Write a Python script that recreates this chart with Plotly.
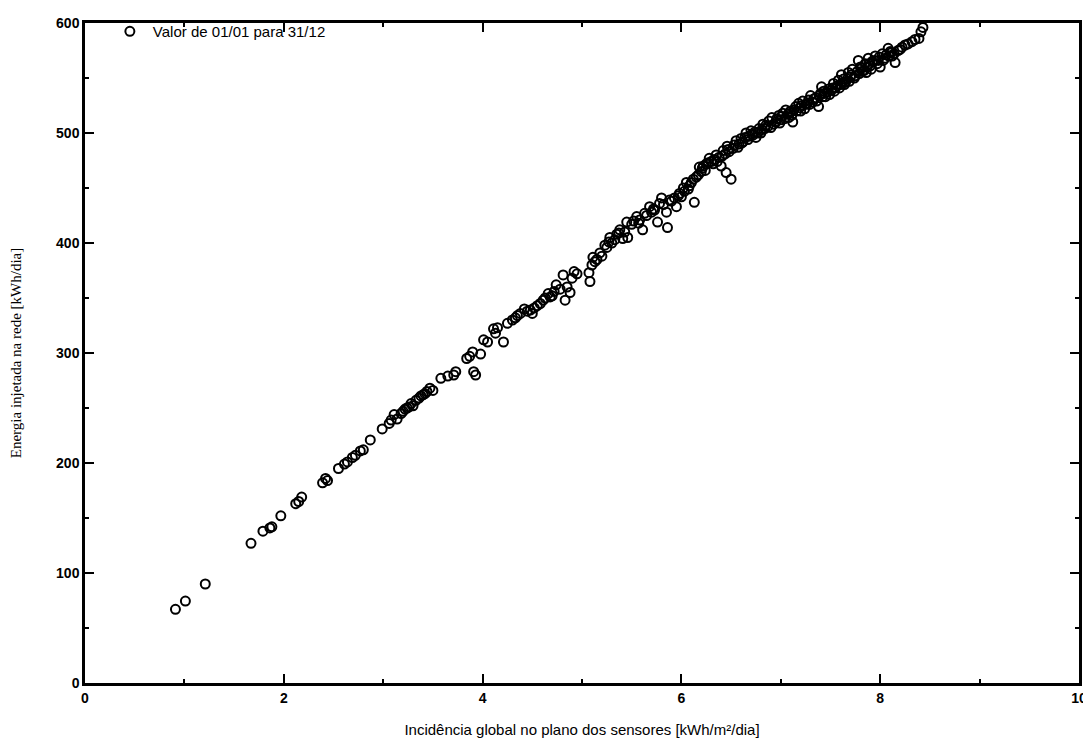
import plotly.graph_objects as go

# leituras aproximadas do grafico (incidencia kWh/m2/dia, energia kWh/dia)
incidencia = [
    0.91, 1.01, 1.21, 1.67, 1.79, 1.86, 1.88, 1.97, 2.12, 2.15, 2.18, 2.39, 2.42, 2.44,
    2.55, 2.61, 2.64, 2.69, 2.72, 2.77, 2.80, 2.87, 2.99, 3.06, 3.08, 3.11, 3.14, 3.18,
    3.20, 3.24, 3.28, 3.30, 3.33, 3.36, 3.40, 3.44, 3.47, 3.50, 3.58, 3.65, 3.71, 3.73,
    3.84, 3.87, 3.90, 3.91, 3.93, 3.98, 4.01, 4.05, 4.11, 4.13, 4.15, 4.21, 4.25, 4.30,
    4.33, 4.38, 4.42, 4.48, 4.50, 4.55, 4.61, 4.66, 4.70, 4.74, 4.78, 4.81, 4.83, 4.85,
    4.88, 4.90, 4.92, 4.95, 5.07, 5.08, 5.10, 5.11, 5.13, 5.18, 5.20, 5.23, 5.25, 5.28,
    5.30, 5.35, 5.38, 5.41, 5.45, 5.46, 5.50, 5.55, 5.58, 5.61, 5.63, 5.68, 5.70, 5.73,
    5.76, 5.80, 5.82, 5.85, 5.86, 5.90, 5.95, 5.98, 6.00, 6.02, 6.05, 6.08, 6.10, 6.13,
    6.15, 6.18, 6.20, 6.22, 6.25, 6.28, 6.30, 6.32, 6.35, 6.38, 6.40, 6.42, 6.45, 6.46,
    6.48, 6.50, 6.52, 6.55, 6.58, 6.60, 6.62, 6.65, 6.68, 6.70, 6.72, 6.75, 6.78, 6.80,
    6.82, 6.85, 6.88, 6.90, 6.91, 6.95, 6.98, 7.00, 7.02, 7.05, 7.08, 7.10, 7.11, 7.12,
    7.15, 7.18, 7.20, 7.22, 7.25, 7.28, 7.30, 7.32, 7.35, 7.38, 7.40, 7.41, 7.43, 7.45,
    7.48, 7.51, 7.53, 7.55, 7.58, 7.60, 7.61, 7.63, 7.65, 7.68, 7.70, 7.72, 7.75, 7.78,
    7.80, 7.82, 7.85, 7.86, 7.88, 7.90, 7.92, 7.95, 7.98, 8.00, 8.02, 8.05, 8.08, 8.10,
    8.12, 8.15, 8.18, 8.22, 8.25, 8.35, 8.39, 8.41, 8.43,
    6.03, 6.07, 6.12, 6.17, 6.21, 6.24, 6.27, 6.33, 6.36, 6.41, 6.44, 6.47, 6.53, 6.57,
    6.61, 6.64, 6.67, 6.71, 6.74, 6.77, 6.81, 6.84, 6.87, 6.93, 6.96, 6.99, 7.01, 7.04,
    7.07, 7.09, 7.13, 7.16, 7.19, 7.21, 7.24, 7.27, 7.29, 7.33, 7.36, 7.39, 7.42, 7.44,
    7.47, 7.49, 7.52, 7.54, 7.57, 7.59, 7.62, 7.64, 7.67, 7.69, 7.71, 7.74, 7.77, 7.79,
    7.81, 7.84, 7.87, 7.89, 7.91, 7.94, 7.97, 7.99, 8.03, 8.06, 8.09, 8.11, 8.14, 8.20,
    8.28, 8.32,
    3.22, 3.26, 3.38, 3.42, 4.35, 4.45, 4.52, 4.58, 4.63, 4.68, 4.72, 5.15, 5.27, 5.33,
    5.37, 5.43, 5.52, 5.57, 5.65, 5.72, 5.78, 5.88, 5.93, 5.97,
]
energia = [
    67, 74.5, 90, 127, 138, 141, 142, 152, 163, 165, 169, 182, 186, 184,
    195, 199, 201, 205, 207, 211, 212, 221, 231, 236, 239, 244, 240, 245,
    247, 250, 254, 252, 257, 259, 262, 265, 268, 266, 277, 279, 280, 283,
    295, 297, 301, 283, 280, 299, 312, 310, 322, 318, 323, 310, 327, 330,
    332, 336, 340, 339, 336, 343, 348, 354, 352, 362, 358, 371, 348, 360,
    355, 368, 374, 372, 373, 365, 380, 387, 383, 391, 388, 398, 396, 405,
    400, 408, 412, 404, 419, 405, 417, 424, 421, 412, 427, 433, 428, 430,
    419, 441, 435, 428, 414, 438, 433, 445, 442, 450, 455, 452, 455, 437,
    460, 469, 465, 470, 472, 477, 474, 472, 480, 478, 470, 484, 464, 488,
    483, 458, 486, 493, 490, 495, 492, 500, 497, 502, 498, 496, 504, 500,
    508, 507, 511, 505, 514, 510, 516, 512, 518, 521, 514, 520, 516, 510,
    524, 527, 520, 529, 526, 530, 534, 528, 532, 524, 536, 542, 538, 533,
    540, 539, 545, 541, 548, 544, 553, 549, 546, 555, 551, 558, 552, 566,
    560, 556, 563, 555, 568, 561, 565, 570, 566, 560, 572, 568, 577, 574,
    570, 564, 575, 578, 580, 585, 586, 592, 596,
    447, 449, 458, 462, 468, 466, 473, 476, 474, 479, 481, 485, 489, 487,
    491, 496, 494, 499, 501, 500, 503, 504, 506, 508, 513, 509, 515, 513,
    517, 519, 521, 520, 523, 525, 522, 527, 526, 531, 529, 534, 533, 536,
    537, 535, 541, 538, 543, 541, 546, 544, 549, 547, 553, 550, 556, 554,
    559, 557, 560, 563, 558, 566, 563, 569, 566, 571, 570, 573, 572, 576,
    581, 583,
    249, 251, 261, 263, 334, 338, 341, 345, 350, 351, 356, 385, 401, 403,
    409, 410, 420, 418, 425, 431, 436, 439, 441, 443,
]

fig = go.Figure()
fig.add_trace(go.Scatter(
    x=incidencia, y=energia, mode='markers',
    name='Valor de 01/01 para 31/12',
    marker=dict(symbol='circle-open', size=9, color='black', line=dict(width=2, color='black')),
))

eixo = dict(
    showgrid=False, zeroline=False, showline=True, linecolor='black', linewidth=2.5,
    mirror='ticks', ticks='inside', ticklen=9, tickwidth=1.5, tickcolor='black',
    tickfont=dict(family='Liberation Sans', size=14, color='black', weight='bold'),
    automargin=False,
)

fig.update_xaxes(
    range=[0, 10], dtick=2, **eixo,
    minor=dict(ticks='inside', dtick=1, ticklen=4, tickwidth=1.5, tickcolor='black'),
    title=dict(text='Incidência global no plano dos sensores [kWh/m²/dia]',
               font=dict(family='Liberation Sans', size=15, color='black'), standoff=20),
)
fig.update_yaxes(
    range=[0, 600], dtick=100, **eixo,
    minor=dict(ticks='inside', dtick=50, ticklen=4, tickwidth=1.5, tickcolor='black'),
    title=dict(text='Energia injetada na rede [kWh/dia]',
               font=dict(family='Liberation Serif', size=15, color='black'), standoff=36),
)

# a pagina tem 8px de margem no body: figura um pouco menor que a janela
fig.update_layout(
    width=1083, height=734,
    margin=dict(l=77, r=12, t=15, b=59, autoexpand=False),
    plot_bgcolor='white', paper_bgcolor='white',
    font=dict(family='Liberation Sans', color='black'),
    showlegend=True,
    legend=dict(x=0.022, y=1.012, xanchor='left', yanchor='top', bgcolor='rgba(0,0,0,0)',
                itemwidth=36,
                font=dict(family='Liberation Sans', size=15, color='black')),
)

fig.write_html('out.html')
